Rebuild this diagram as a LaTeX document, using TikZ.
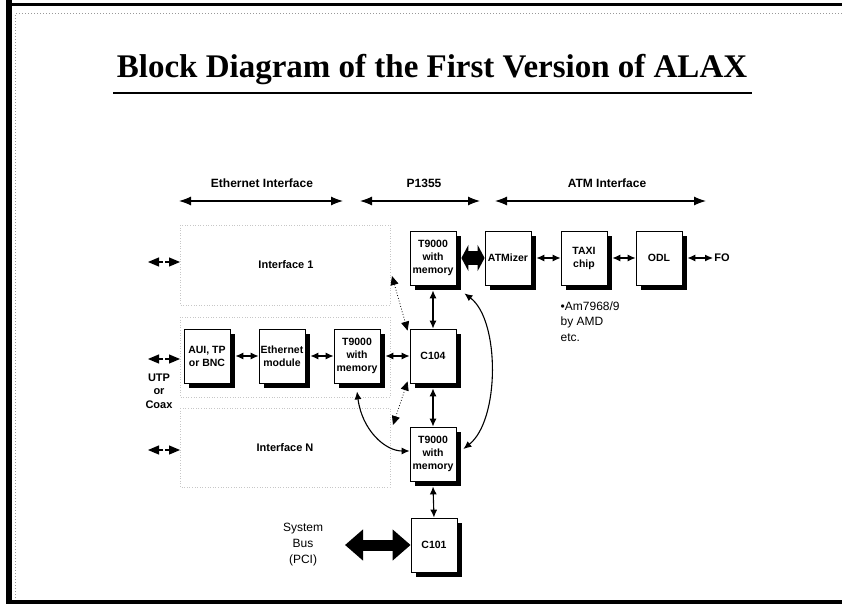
\documentclass[tikz,border=0pt]{standalone}
\usepackage{fontspec}
\setmainfont{Liberation Serif}
\setsansfont{Liberation Sans}
\usetikzlibrary{arrows.meta,shadows}
\tikzset{every picture/.style={line width=0.75pt}}
\tikzset{
  blk/.style={draw, fill=white, line width=0.8pt, minimum width=46pt, minimum height=54pt,
    inner sep=1pt, align=center, font=\sffamily\bfseries\fontsize{10.5}{13}\selectfont,
    drop shadow={shadow xshift=5pt, shadow yshift=-5pt, fill=black, opacity=1}},
  lnk/.style={line width=1.1pt, {Latex[length=8pt,width=7pt]}-{Latex[length=8pt,width=7pt]}},
  hdr/.style={font=\sffamily\bfseries\fontsize{12}{14}\selectfont},
  span/.style={line width=1.1pt, {Latex[length=12pt,width=9pt]}-{Latex[length=12pt,width=9pt]}},
  ifc/.style={draw=black!22, dotted, line width=0.6pt},
  lbl/.style={font=\sffamily\bfseries\fontsize{11}{13.5}\selectfont, align=center},
  fat/.style={line width=#1pt},
}

\begin{document}
\begin{tikzpicture}[x=1pt,y=-1pt]
\useasboundingbox (0,0) rectangle (842,604);

% frame
\draw[line width=6pt] (9,0) -- (9,604);
\draw[line width=3pt] (6,4.5) -- (842,4.5);
\draw[line width=4pt] (6,601.5) -- (842,601.5);
\draw[black!40, dotted, line width=1pt] (15,598) -- (15,14) -- (842,14);

% title
\node[anchor=base, font=\bfseries\fontsize{33}{36}\selectfont] (title) at (432,78) {Block Diagram of the First Version of ALAX};
\draw[line width=2pt] (113,93) -- (752,93);

% sections
\node[hdr] (eth) at (262,183) {Ethernet Interface};
\node[hdr] (p1355) at (424,183) {P1355};
\node[hdr] (atm) at (607,183) {ATM Interface};
\coordinate (ethL) at (179,201);
\coordinate (ethR) at (343,201);
\coordinate (pL) at (360,201);
\coordinate (pR) at (480,201);
\coordinate (atmL) at (495,201);
\coordinate (atmR) at (706,201);
\draw[span] (ethL) -- (ethR);
\draw[span] (pL) -- (pR);
\draw[span] (atmL) -- (atmR);

% interfaces
\draw[ifc] (180,225) rectangle (390,305);
\draw[ifc] (180,317) rectangle (390,397);
\draw[ifc] (180,408) rectangle (390,487);
\node[lbl] (if1) at (286,265) {Interface 1};
\node[lbl] (ifn) at (285,448) {Interface N};

\foreach \y in {262,359,450} {
  \draw[line width=1.2pt, -{Triangle[length=11pt,width=9pt]}] (163,\y) -- (148,\y);
  \draw[line width=1.2pt, -{Triangle[length=11pt,width=9pt]}] (165,\y) -- (180,\y);
}
\node[lbl] (utp) at (159,391) {UTP\\or\\Coax};

% blocks
\node[blk] (aui) at (207,356) {AUI, TP\\or BNC};
\node[blk] (ethm) at (282,356) {Ethernet\\module};
\node[blk] (tl) at (357,356) {T9000\\with\\memory};
\node[blk] (c104) at (433,356) {C104};
\node[blk] (tt) at (433,258) {T9000\\with\\memory};
\node[blk] (atmz) at (508,258) {ATMizer};
\node[blk] (taxi) at (584,258) {TAXI\\chip};
\node[blk] (odl) at (659,258) {ODL};
\node[blk] (tb) at (433,454) {T9000\\with\\memory};
\node[blk] (c101) at (434,545) {C101};
\node[lbl, inner sep=1pt] (fo) at (722,258) {FO};

\node[font=\sffamily\fontsize{12}{15.5}\selectfont, align=left, anchor=north west] (amd) at (557,298) {•Am7968/9\\by AMD\\etc.};
\node[font=\sffamily\fontsize{12}{16}\selectfont, align=center] (sysbus) at (303,545) {System\\Bus\\(PCI)};

% links
\draw[lnk] ([xshift=5pt]aui.east) -- (ethm.west);
\draw[lnk] ([xshift=5pt]ethm.east) -- (tl.west);
\draw[lnk] ([xshift=5pt]tl.east) -- (c104.west);
\draw[lnk] ([yshift=-5pt]tt.south) -- (c104.north);
\draw[lnk] ([yshift=-5pt]c104.south) -- (tb.north);
\draw[lnk] ([yshift=-5pt]tb.south) -- (c101.north);
\draw[lnk] ([xshift=5pt]atmz.east) -- (taxi.west);
\draw[lnk] ([xshift=5pt]taxi.east) -- (odl.west);
\draw[lnk] ([xshift=5pt]odl.east) -- (fo.west);

\draw[fat=14, {Triangle[length=7pt,width=26pt]}-{Triangle[length=7pt,width=26pt]}] ([xshift=5pt]tt.east) -- (atmz.west);
\coordinate (bus) at (345,545);
\draw[fat=11, {Triangle[length=18pt,width=30pt]}-{Triangle[length=18pt,width=30pt]}] (bus) -- (c101.west);

\draw[lnk] ([shift={(8pt,-8pt)}]tt.south east) .. controls (500,320) and (500,420) .. ([shift={(7pt,5pt)}]tb.east);
\draw[lnk] ([yshift=-8pt]tl.south) .. controls (362,430) and (385,451) .. ([yshift=3pt]tb.west);

% links to the other interfaces
\coordinate (if1c) at (392,276);
\coordinate (ifnc) at (393,425);
\draw[dotted, line width=0.8pt, {Triangle[length=9pt,width=8pt]}-{Triangle[length=9pt,width=8pt]}] (if1c) -- ([shift={(-2pt,-2pt)}]c104.north west);
\draw[dotted, line width=0.8pt, {Triangle[length=9pt,width=8pt]}-{Triangle[length=9pt,width=8pt]}] (ifnc) -- ([shift={(-2pt,2pt)}]c104.south west);
\end{tikzpicture}
\end{document}
